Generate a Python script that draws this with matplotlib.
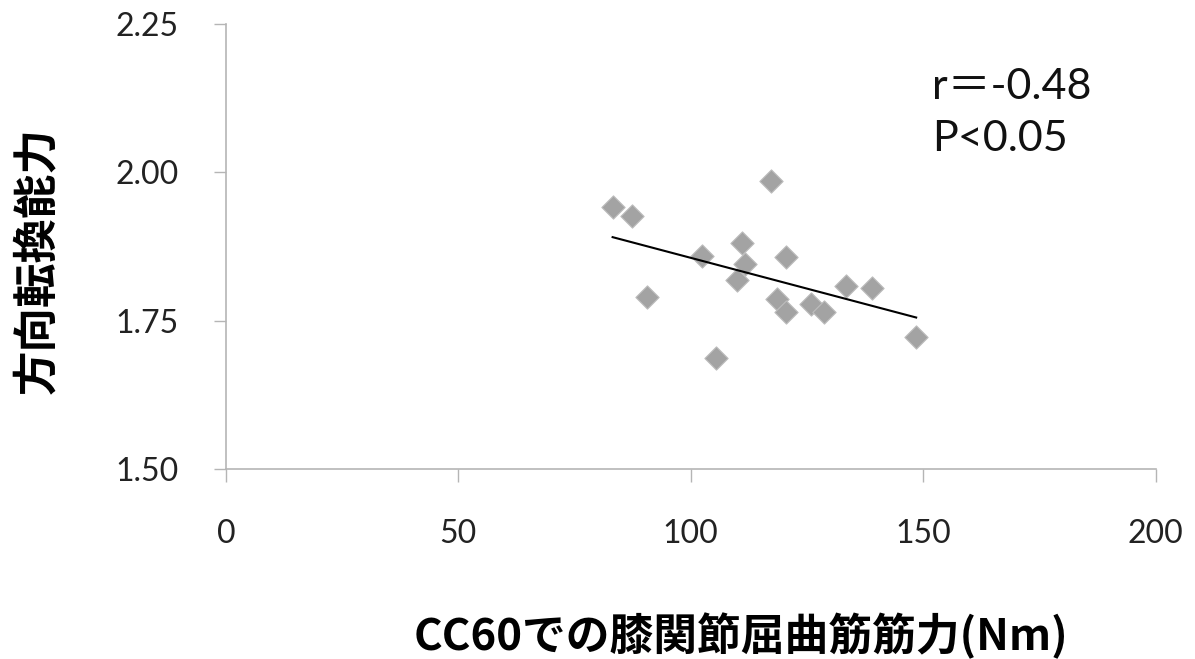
import numpy as np
import matplotlib
matplotlib.use('Agg')
import matplotlib.pyplot as plt

# 膝関節屈曲筋力 (Nm) と 方向転換能力
strength = [83.2, 87.3, 117.2, 111.1, 102.5, 120.4, 111.6, 110.0, 90.7,
            133.5, 139.0, 118.5, 120.4, 125.9, 128.6, 148.5, 105.4]
agility = [1.942, 1.927, 1.986, 1.881, 1.859, 1.858, 1.846, 1.819, 1.790,
           1.809, 1.805, 1.786, 1.764, 1.778, 1.765, 1.722, 1.687]

x_ticks = [0, 50, 100, 150, 200]
y_ticks = [1.50, 1.75, 2.00, 2.25]
y_ticklabels = ['1.50', '1.75', '2.00', '2.25']

plt.rcParams['font.family'] = ['Lato', 'Noto Sans CJK JP', 'DejaVu Sans']

fig = plt.figure(figsize=(11.95, 6.59), dpi=100)
ax = fig.add_axes([0.189, 0.288, 0.778, 0.676])

ax.scatter(strength, agility, marker='D', s=140, color='#a3a3a3',
           edgecolors='#bdbdbd', linewidths=0.8, zorder=3)

# 回帰直線
coef = np.polyfit(strength, agility, 1)
xs = np.array([min(strength), max(strength)])
ax.plot(xs, np.polyval(coef, xs), color='black', lw=1.5, zorder=4)

ax.set_xlim(0, 200)
ax.set_ylim(1.50, 2.25)
ax.set_xticks(x_ticks)
ax.set_yticks(y_ticks)
ax.set_yticklabels(y_ticklabels)

for s in ['top', 'right']:
    ax.spines[s].set_visible(False)
for s in ['left', 'bottom']:
    ax.spines[s].set_color('#b5b5b5')
    ax.spines[s].set_linewidth(1.2)
ax.tick_params(axis='both', direction='out', length=9, width=1.0,
               color='#b5b5b5', labelsize=23, labelcolor='#222222')
ax.tick_params(axis='y', pad=25)
ax.tick_params(axis='x', pad=27)

fig.text(0.78, 1 - 87 / 659, 'r＝-0.48', fontsize=31,
         color='#111111', va='center', ha='left')
fig.text(0.78, 1 - 139 / 659, 'P<0.05', fontsize=31,
         color='#111111', va='center', ha='left')

fig.text(0.031, 1 - 261 / 659, '方向転換能力', fontsize=32,
         fontweight='bold', family=['Noto Sans CJK JP'], rotation=90,
         ha='center', va='center')
fig.text(0.62, 0.035, 'CC60での膝関節屈曲筋筋力(Nm)', fontsize=31.5,
         fontweight='bold', family=['Noto Sans CJK JP'], ha='center',
         va='center')

plt.savefig('out.png', dpi=100)
